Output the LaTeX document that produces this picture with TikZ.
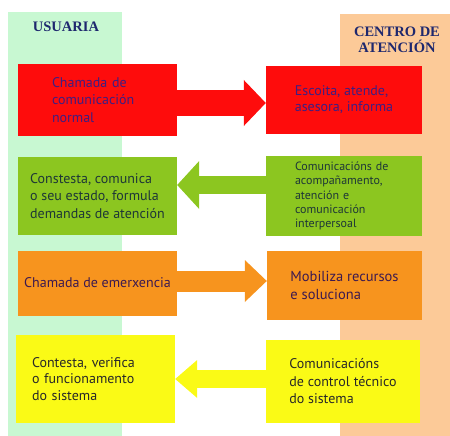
\documentclass[tikz,border=0pt]{standalone}
\usepackage{fontspec}
\setmainfont{PT Sans}
\newfontfamily\headfont{Liberation Serif}
\usetikzlibrary{arrows.meta,positioning}
\definecolor{bandg}{RGB}{200,248,210}
\definecolor{bandp}{RGB}{252,202,152}
\definecolor{boxr}{RGB}{254,12,12}
\definecolor{boxg}{RGB}{140,198,32}
\definecolor{boxo}{RGB}{247,148,30}
\definecolor{boxy}{RGB}{250,250,22}
\definecolor{txtr}{RGB}{62,30,130}
\definecolor{txtg}{RGB}{30,55,55}
\definecolor{txto}{RGB}{60,25,80}
\definecolor{txty}{RGB}{40,40,40}
\definecolor{navy}{RGB}{30,40,110}

\begin{document}
\begin{tikzpicture}[x=1pt,y=-1pt,
  head/.style={font=\headfont\fontsize{14.5}{15.5}\selectfont\bfseries,text=navy,align=center},
  box/.style={align=left,inner sep=0pt},
  big/.style={->,>={Triangle[width=#1,length=22pt,line width=0pt]}}]
  \useasboundingbox (0,0) rectangle (450,436);
  \fill[bandg] (8,12) rectangle (122,436);
  \fill[bandp] (340,14) rectangle (450,436);
  \node[head] (h_u) at (66,27) {USUARIA};
  \node[head] (h_c) at (397,40) {CENTRO DE\\ATENCIÓN};
  \node[box,fill=boxr,text=txtr,minimum width=159pt,minimum height=72pt,text width=91pt,
    font=\fontsize{14}{17.5}\selectfont] (u_1) at (97.5,100)
    {Chamada de\\comunicación\\normal};
  \node[box,fill=boxr,text=txtr,minimum width=156pt,minimum height=68pt,
    font=\fontsize{14}{16}\selectfont] (c_1) at (344,100)
    {Escoita, atende,\\asesora, informa};
  \node[box,fill=boxg,text=txtg,minimum width=159pt,minimum height=78pt,
    font=\fontsize{14}{17.5}\selectfont] (u_2) at (97.5,196)
    {Constesta, comunica\\o seu estado, formula\\demandas de atención};
  \node[box,fill=boxg,text=txtg,minimum width=156pt,minimum height=80pt,text width=98pt,
    font=\fontsize{12}{14.2}\selectfont] (c_2) at (344,196)
    {Comunicacións de\\acompañamento,\\atención e\\comunicación\\interpersoal};
  \node[box,fill=boxo,text=txto,minimum width=159pt,minimum height=65pt,
    font=\fontsize{14}{18}\selectfont] (u_3) at (97.5,283)
    {Chamada de emerxencia};
  \node[box,fill=boxo,text=txto,minimum width=155pt,minimum height=69pt,
    font=\fontsize{14.5}{18}\selectfont] (c_3) at (344.5,285.5)
    {Mobiliza recursos\\e soluciona};
  \node[box,fill=boxy,text=txty,minimum width=159pt,minimum height=88pt,text width=127pt,
    font=\fontsize{14}{16.2}\selectfont] (u_4) at (95.5,379)
    {Contesta, verifica\\o funcionamento\\do sistema};
  \node[box,fill=boxy,text=txty,minimum width=154pt,minimum height=83pt,
    font=\fontsize{14}{17.5}\selectfont] (c_4) at (343,381.5)
    {Comunicacións\\de control técnico\\do sistema};
  \draw[big=46pt,boxr,line width=25pt] ([yshift=-3pt]u_1.east) -- ([yshift=-3pt]c_1.west);
  \draw[big=48pt,boxg,line width=18pt] ([yshift=11pt]c_2.west) -- ([yshift=11pt]u_2.east);
  \draw[big=42pt,boxo,line width=21pt] ([yshift=2pt]u_3.east) -- ([yshift=2pt]u_3.east -| c_3.west);
  \draw[big=38pt,boxy,line width=18pt] (u_4.east -| c_4.west) -- (u_4.east);
\end{tikzpicture}
\end{document}
